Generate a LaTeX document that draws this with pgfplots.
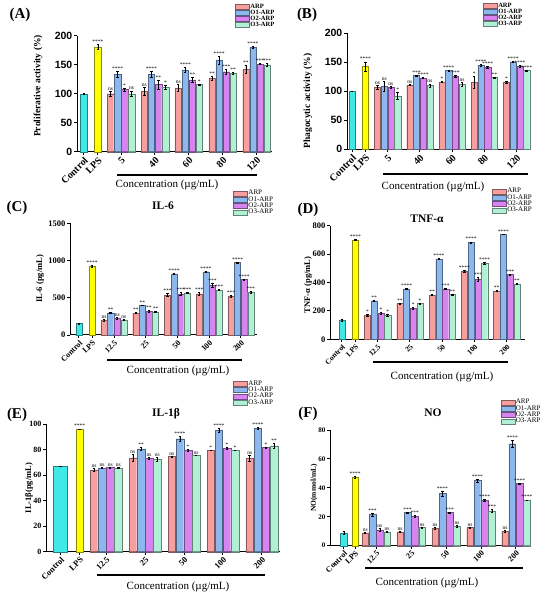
\documentclass[border=0pt]{standalone}
\usepackage{fontspec}
\setmainfont{Liberation Serif}
\setsansfont{Liberation Sans}
\usepackage{pgfplots}
\pgfplotsset{compat=1.18}
\newcommand{\fs}[1]{\fontsize{#1}{#1}\selectfont}
\definecolor{cC}{RGB}{64,232,232}
\definecolor{cL}{RGB}{255,255,0}
\definecolor{cA}{RGB}{245,160,158}
\definecolor{cB}{RGB}{140,184,238}
\definecolor{cP}{RGB}{215,132,240}
\definecolor{cG}{RGB}{178,240,214}
\pgfplotsset{
  panel/.style={scale only axis, anchor=south west, axis x line*=bottom, axis y line*=left,
    ymin=0, tick align=outside, axis line style={line width=1pt}, major tick length=3pt,
    every tick/.style={black, line width=0.9pt}, clip=false,
    /pgf/number format/assume math mode=true, /pgf/number format/1000 sep={},
    xticklabel style={rotate=45, anchor=north east, inner sep=1pt},
    yticklabel style={inner sep=1.5pt},
    legend cell align=left,
    legend image code/.code={\fill[##1] (0pt,-2.5pt) rectangle (14pt,2.5pt);},
    legend style={draw=none, fill=none, inner sep=0pt, row sep=-1.8pt, anchor=north west,
      nodes={inner sep=1pt}}},
  sig/.style={nodes near coords, point meta=explicit symbolic,
    visualization depends on={\thisrow{e}\as\err},
    every node near coord/.append style={font=\fs{5.5}, inner sep=0.6pt, anchor=south,
      shift={(axis direction cs:0,\err)}}},
  bars/.style={ybar, bar width=0.92, bar shift=0pt, fill=#1, draw=#1!55!black, line width=0.3pt,
    /pgfplots/error bars/y dir=both, /pgfplots/error bars/y explicit,
    /pgfplots/error bars/error bar style={line width=0.4pt, black},
    /pgfplots/error bars/error mark options={rotate=90, mark size=1.2pt, black, line width=0.4pt}},
}
\begin{document}
\begin{tikzpicture}
\useasboundingbox (0pt,0pt) rectangle (550pt,598pt);
% ---------------- (A)
\begin{axis}[panel, at={(77pt,446.3pt)}, width=195pt, height=116pt,
  xmin=-0.95, xmax=26.7, ymax=200, ytick={0,50,100,150,200},
  xtick={0,2,5.3,10.1,14.9,19.7,24.5}, xticklabels={Control,LPS,5,40,60,80,120},
  yticklabel style={font=\sffamily\bfseries\fs{10.5}}, xticklabel style={font=\bfseries\fs{10}},
  legend style={at={(axis description cs:0.81,1.285)}, font=\bfseries\fs{6.5}}]
\addplot[bars=cC, forget plot] table[x=x,y=y,y error=e,row sep=\\]{x y e\\ 0 100 0.5\\};
\addplot[sig, bars=cL, forget plot] table[x=x,y=y,y error=e,meta=s,row sep=\\]{x y e s\\ 2 181 4 ****\\};
\addplot[sig, bars=cA] table[x=x,y=y,y error=e,meta=s,row sep=\\]{x y e s\\ 3.8 100 4 ns\\ 8.6 104 7 ns\\ 13.4 110 6 ns\\ 18.2 127 3 **\\ 23 142 7 **\\};
\addlegendentry{ARP}
\addplot[sig, bars=cB] table[x=x,y=y,y error=e,meta=s,row sep=\\]{x y e s\\ 4.8 133 5 ****\\ 9.6 133 5 ****\\ 14.4 141 4 ****\\ 19.2 157 7 ****\\ 24 180 2 ****\\};
\addlegendentry{O1-ARP}
\addplot[sig, bars=cP] table[x=x,y=y,y error=e,meta=s,row sep=\\]{x y e s\\ 5.8 107 3 *\\ 10.6 116 8 **\\ 15.4 124 4 **\\ 20.2 138 5 ***\\ 25 151 1 ***\\};
\addlegendentry{O2-ARP}
\addplot[sig, bars=cG] table[x=x,y=y,y error=e,meta=s,row sep=\\]{x y e s\\ 6.8 100 5 ns\\ 11.6 111 3 *\\ 16.4 116 1 *\\ 21.2 135 2 **\\ 26 150 2 ***\\};
\addlegendentry{O3-ARP}
\end{axis}
% ---------------- (B)
\begin{axis}[panel, at={(347pt,448.7pt)}, width=181pt, height=116pt,
  xmin=-0.74, xmax=26.2, ymax=200, ytick={0,50,100,150,200},
  xtick={0,2,5.3,10.1,14.9,19.7,24.5}, xticklabels={Control,LPS,5,40,60,80,120},
  yticklabel style={font=\sffamily\bfseries\fs{10.5}}, xticklabel style={font=\bfseries\fs{10}},
  legend style={at={(axis description cs:0.75,1.27)}, font=\bfseries\fs{6.5}}]
\addplot[bars=cC, forget plot] table[x=x,y=y,y error=e,row sep=\\]{x y e\\ 0 100 0.5\\};
\addplot[sig, bars=cL, forget plot] table[x=x,y=y,y error=e,meta=s,row sep=\\]{x y e s\\ 2 143 8 ****\\};
\addplot[sig, bars=cA] table[x=x,y=y,y error=e,meta=s,row sep=\\]{x y e s\\ 3.8 107 3 ns\\ 8.6 111 1 ns\\ 13.4 116 1 *\\ 18.2 116 10 *\\ 23 116 2 *\\};
\addlegendentry{ARP}
\addplot[sig, bars=cB] table[x=x,y=y,y error=e,meta=s,row sep=\\]{x y e s\\ 4.8 109 9 ns\\ 9.6 127 1 ***\\ 14.4 136 1 ****\\ 19.2 145 2 ****\\ 24 151 1 ****\\};
\addlegendentry{O1-ARP}
\addplot[sig, bars=cP] table[x=x,y=y,y error=e,meta=s,row sep=\\]{x y e s\\ 5.8 107 2 ns\\ 10.6 123 1 ****\\ 15.4 126 1 ***\\ 20.2 141 2 ****\\ 25 143 2 ****\\};
\addlegendentry{O2-ARP}
\addplot[sig, bars=cG] table[x=x,y=y,y error=e,meta=s,row sep=\\]{x y e s\\ 6.8 92 6 *\\ 11.6 110 3 ns\\ 16.4 112 3 ns\\ 21.2 124 1 **\\ 26 136 1 ****\\};
\addlegendentry{O3-ARP}
\end{axis}
% ---------------- (C)
\begin{axis}[panel, at={(70pt,263pt)}, width=186.7pt, height=111.7pt,
  xmin=-1.35, xmax=26.9, ymax=1500, ytick={0,500,1000,1500},
  xtick={0,2,5.3,10.1,14.9,19.7,24.5}, xticklabels={Control,LPS,12.5,25,50,100,200},
  yticklabel style={font=\bfseries\fs{8.5}}, xticklabel style={font=\bfseries\fs{8}},
  legend style={at={(axis description cs:0.873,1.307)}, font=\fs{7}}]
\addplot[bars=cC, forget plot] table[x=x,y=y,y error=e,row sep=\\]{x y e\\ 0 155 5\\};
\addplot[sig, bars=cL, forget plot] table[x=x,y=y,y error=e,meta=s,row sep=\\]{x y e s\\ 2 925 8 ****\\};
\addplot[sig, bars=cA] table[x=x,y=y,y error=e,meta=s,row sep=\\]{x y e s\\ 3.8 200 8 ns\\ 8.6 295 8 **\\ 13.4 535 20 ***\\ 18.2 555 15 ***\\ 23 525 12 ***\\};
\addlegendentry{ARP}
\addplot[sig, bars=cB] table[x=x,y=y,y error=e,meta=s,row sep=\\]{x y e s\\ 4.8 300 5 **\\ 9.6 400 5 **\\ 14.4 820 5 ****\\ 19.2 850 5 ****\\ 24 975 5 ****\\};
\addlegendentry{O1-ARP}
\addplot[sig, bars=cP] table[x=x,y=y,y error=e,meta=s,row sep=\\]{x y e s\\ 5.8 225 8 ns\\ 10.6 320 10 **\\ 15.4 550 20 ***\\ 20.2 670 30 ***\\ 25 745 5 ****\\};
\addlegendentry{O2-ARP}
\addplot[sig, bars=cG] table[x=x,y=y,y error=e,meta=s,row sep=\\]{x y e s\\ 6.8 205 5 ns\\ 11.6 310 5 **\\ 16.4 565 8 ***\\ 21.2 605 8 ***\\ 26 575 15 ***\\};
\addlegendentry{O3-ARP}
\end{axis}
% ---------------- (D)
\begin{axis}[panel, at={(330pt,258.7pt)}, width=195pt, height=113.6pt,
  xmin=-1.77, xmax=27.2, ymax=800, ytick={0,200,400,600,800},
  xtick={0,2,5.3,10.1,14.9,19.7,24.5}, xticklabels={Control,LPS,12.5,25,50,100,200},
  yticklabel style={font=\bfseries\fs{8.5}}, xticklabel style={font=\bfseries\fs{7.5}},
  legend style={at={(axis description cs:0.83,1.34)}, font=\fs{7}}]
\addplot[bars=cC, forget plot] table[x=x,y=y,y error=e,row sep=\\]{x y e\\ 0 133 8\\};
\addplot[sig, bars=cL, forget plot] table[x=x,y=y,y error=e,meta=s,row sep=\\]{x y e s\\ 2 700 4 ****\\};
\addplot[sig, bars=cA] table[x=x,y=y,y error=e,meta=s,row sep=\\]{x y e s\\ 3.8 170 4 *\\ 8.6 252 4 **\\ 13.4 312 4 **\\ 18.2 480 8 ****\\ 23 340 4 **\\};
\addlegendentry{ARP}
\addplot[sig, bars=cB] table[x=x,y=y,y error=e,meta=s,row sep=\\]{x y e s\\ 4.8 272 3 **\\ 9.6 355 4 ****\\ 14.4 565 4 ****\\ 19.2 683 4 ****\\ 24 740 3 ****\\};
\addlegendentry{O1-ARP}
\addplot[sig, bars=cP] table[x=x,y=y,y error=e,meta=s,row sep=\\]{x y e s\\ 5.8 185 8 *\\ 10.6 217 6 *\\ 15.4 355 5 ***\\ 20.2 423 12 ***\\ 25 457 4 ***\\};
\addlegendentry{O2-ARP}
\addplot[sig, bars=cG] table[x=x,y=y,y error=e,meta=s,row sep=\\]{x y e s\\ 6.8 168 6 *\\ 11.6 252 5 *\\ 16.4 315 4 **\\ 21.2 535 8 ****\\ 26 390 5 **\\};
\addlegendentry{O3-ARP}
\end{axis}
% ---------------- (E)
\begin{axis}[panel, at={(46pt,46.3pt)}, width=233.7pt, height=127.7pt,
  xmin=-2.12, xmax=26.7, ymax=100, ytick={0,20,40,60,80,100},
  xtick={-0.33,2.03,5.3,10.1,14.9,19.7,24.5}, xticklabels={Control,LPS,12.5,25,50,100,200},
  yticklabel style={font=\bfseries\fs{8}}, xticklabel style={font=\bfseries\fs{8.5}},
  legend style={at={(axis description cs:0.80,1.35)}, font=\fs{7}}]
\addplot[bars=cC, bar width=1.75, forget plot] table[x=x,y=y,y error=e,row sep=\\]{x y e\\ -0.33 67 0.3\\};
\addplot[sig, bars=cL, forget plot] table[x=x,y=y,y error=e,meta=s,row sep=\\]{x y e s\\ 2.03 96 0.3 ****\\};
\addplot[sig, bars=cA] table[x=x,y=y,y error=e,meta=s,row sep=\\]{x y e s\\ 3.8 64 1 ns\\ 8.6 73.5 2.5 ns\\ 13.4 74.5 0.3 ns\\ 18.2 79.5 0.3 *\\ 23 73 2.5 ns\\};
\addlegendentry{ARP}
\addplot[sig, bars=cB] table[x=x,y=y,y error=e,meta=s,row sep=\\]{x y e s\\ 4.8 65.5 0.3 ns\\ 9.6 80.5 1.2 **\\ 14.4 88.5 2 ****\\ 19.2 95 1.5 ****\\ 24 96.5 0.8 ****\\};
\addlegendentry{O1-ARP}
\addplot[sig, bars=cP] table[x=x,y=y,y error=e,meta=s,row sep=\\]{x y e s\\ 5.8 66 0.3 ns\\ 10.6 73 0.8 ns\\ 15.4 79.5 0.8 *\\ 20.2 81 0.6 *\\ 25 81.5 0.5 *\\};
\addlegendentry{O2-ARP}
\addplot[sig, bars=cG] table[x=x,y=y,y error=e,meta=s,row sep=\\]{x y e s\\ 6.8 65.5 0.3 ns\\ 11.6 72.5 1.5 ns\\ 16.4 75.5 0.3 ns\\ 21.2 79.5 0.3 *\\ 26 83 2 **\\};
\addlegendentry{O3-ARP}
\end{axis}
% ---------------- (F)
\begin{axis}[panel, at={(330pt,52.3pt)}, width=200.5pt, height=115.7pt,
  xmin=-1.04, xmax=26.5, ymax=80, ytick={0,20,40,60,80},
  xtick={0.85,2.4,5.3,10.1,14.9,19.7,24.5}, xticklabels={Control,LPS,12.5,25,50,100,200},
  yticklabel style={font=\bfseries\fs{7}}, xticklabel style={font=\bfseries\fs{8}},
  legend style={at={(axis description cs:0.85,1.277)}, font=\fs{7}}]
\addplot[bars=cC, forget plot] table[x=x,y=y,y error=e,row sep=\\]{x y e\\ 0.85 9 1\\};
\addplot[sig, bars=cL, forget plot] table[x=x,y=y,y error=e,meta=s,row sep=\\]{x y e s\\ 2.4 47.5 0.5 ****\\};
\addplot[sig, bars=cA] table[x=x,y=y,y error=e,meta=s,row sep=\\]{x y e s\\ 3.8 9 0.3 ns\\ 8.6 9.5 0.5 ns\\ 13.4 12 0.5 ns\\ 18.2 12.5 0.5 ns\\ 23 10 0.5 ns\\};
\addlegendentry{ARP}
\addplot[sig, bars=cB] table[x=x,y=y,y error=e,meta=s,row sep=\\]{x y e s\\ 4.8 21.5 1 ***\\ 9.6 23 0.3 ***\\ 14.4 36 1.5 ****\\ 19.2 45 1 ****\\ 24 70.5 2.5 ****\\};
\addlegendentry{O1-ARP}
\addplot[sig, bars=cP] table[x=x,y=y,y error=e,meta=s,row sep=\\]{x y e s\\ 5.8 11 1 ns\\ 10.6 20.5 0.8 ***\\ 15.4 23 0.3 ***\\ 20.2 31.5 0.5 ****\\ 25 43 0.3 ****\\};
\addlegendentry{O2-ARP}
\addplot[sig, bars=cG] table[x=x,y=y,y error=e,meta=s,row sep=\\]{x y e s\\ 6.8 9.5 0.5 ns\\ 11.6 12.5 0.3 ns\\ 16.4 13.5 0.5 ns\\ 21.2 24 1 ***\\ 26 31.5 0.3 ****\\};
\addlegendentry{O3-ARP}
\end{axis}
% ---------------- annotations
\foreach \p/\x/\y in {(A)/20/583,(B)/307/583,(C)/17/390,(D)/308/388,(E)/17/183,(F)/308/184}
  \node[font=\bfseries\fs{15}] at (\x pt,\y pt) {\p};
\node[font=\bfseries\fs{11.5}] at (163pt,392pt) {IL-6};
\node[font=\bfseries\fs{11.5}] at (427pt,379pt) {TNF-α};
\node[font=\bfseries\fs{11.5}] at (166pt,184pt) {IL-1β};
\node[font=\bfseries\fs{11.5}] at (433pt,185pt) {NO};
\node[rotate=90, font=\bfseries\fs{9.5}] at (38pt,512pt) {Proliferative activity (\%)};
\node[rotate=90, font=\bfseries\fs{9.5}] at (308pt,497pt) {Phagocytic activity (\%)};
\node[rotate=90, font=\bfseries\fs{8.5}] at (40pt,319pt) {IL-6 (pg/mL)};
\node[rotate=90, font=\bfseries\fs{8.5}] at (308pt,313pt) {TNF-α (pg/mL)};
\node[rotate=90, font=\bfseries\fs{8.5}] at (29pt,110pt) {IL-1β(pg/mL)};
\node[rotate=90, font=\bfseries\fs{7.5}] at (314pt,110pt) {NO(mmol/mL)};
\foreach \x/\y in {167/413,433/411,178/227,442/221,178/11,427/15}
  \node[font=\fs{11}] at (\x pt,\y pt) {Concentration (µg/mL)};
\foreach \a/\b/\y in {117/257/423,383/528/424,107/242/238,373/508/236,97/265/23,365/523/30}
  \draw[line width=1.6pt] (\a pt,\y pt) -- (\b pt,\y pt);
\end{tikzpicture}
\end{document}
